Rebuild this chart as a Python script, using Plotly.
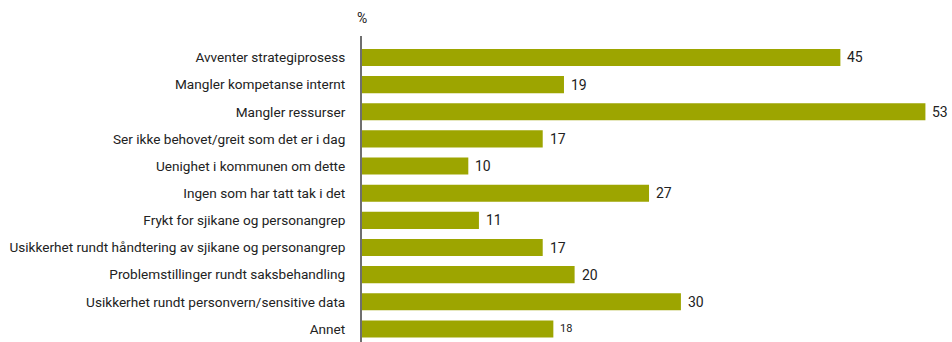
import plotly.graph_objects as go

categories = [
    "Avventer strategiprosess",
    "Mangler kompetanse internt",
    "Mangler ressurser",
    "Ser ikke behovet/greit som det er i dag",
    "Uenighet i kommunen om dette",
    "Ingen som har tatt tak i det",
    "Frykt for sjikane og personangrep",
    "Usikkerhet rundt håndtering av sjikane og personangrep",
    "Problemstillinger rundt saksbehandling",
    "Usikkerhet rundt personvern/sensitive data",
    "Annet",
]
values = [45, 19, 53, 17, 10, 27, 11, 17, 20, 30, 18]
value_font_sizes = [14] * 10 + [11]

BAR_COLOR = "#9da500"
TEXT_COLOR = "#222222"
FONT = "Roboto"

fig = go.Figure(
    go.Bar(
        x=values,
        y=categories,
        orientation="h",
        marker=dict(color=BAR_COLOR, line=dict(width=0)),
        width=0.63,
        hoverinfo="skip",
    )
)

# value labels placed just right of each bar end
annotations = [
    dict(
        text=str(v),
        x=v,
        y=c,
        xref="x",
        yref="y",
        xanchor="left",
        yanchor="middle",
        xshift=5,
        showarrow=False,
        font=dict(family=FONT, size=s, color=TEXT_COLOR),
    )
    for c, v, s in zip(categories, values, value_font_sizes)
]
annotations.append(
    dict(
        text="%",
        x=0,
        xref="x",
        y=1,
        yref="paper",
        yshift=8,
        yanchor="bottom",
        xanchor="center",
        showarrow=False,
        font=dict(family=FONT, size=14, color=TEXT_COLOR),
    )
)

fig.update_layout(
    width=952,
    height=342,
    margin=dict(l=362, r=0, t=36, b=0),
    paper_bgcolor="white",
    plot_bgcolor="white",
    showlegend=False,
    font=dict(family=FONT, size=13.6, color=TEXT_COLOR),
    xaxis=dict(
        range=[0, 55.5],
        showgrid=False,
        zeroline=False,
        showticklabels=False,
        showline=False,
        ticks="",
    ),
    yaxis=dict(
        categoryorder="array",
        categoryarray=categories,
        range=[10.48, -0.79],
        showgrid=False,
        zeroline=False,
        showline=True,
        linecolor="#6f6f6f",
        linewidth=2,
        ticks="",
        ticklabelstandoff=12,
        tickfont=dict(family=FONT, size=13.6, color=TEXT_COLOR),
    ),
    annotations=annotations,
)

fig.write_html("out.html")
